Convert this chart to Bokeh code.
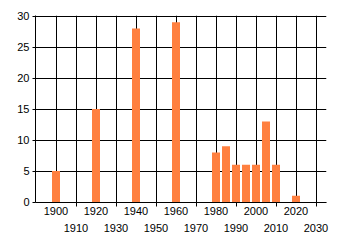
from bokeh.plotting import figure
from bokeh.models import FixedTicker, Range1d
from bokeh.embed import file_html
from bokeh.resources import INLINE

years = [1900, 1920, 1940, 1960, 1980, 1985, 1990, 1995, 2000, 2005, 2010, 2020]
counts = [5, 15, 28, 29, 8, 9, 6, 6, 6, 13, 6, 1]

x_labels_row1 = ["1900", "1920", "1940", "1960", "1980", "2000", "2020"]
x_labels_row2 = ["1910", "1930", "1950", "1970", "1990", "2010", "2030"]
y_ticks = [0, 5, 10, 15, 20, 25, 30]

bar_color = "#FF8040"
font = "Liberation Sans"

p = figure(frame_width=291, frame_height=187, output_backend="svg", toolbar_location=None,
           x_range=Range1d(1889.75, 2035.25), y_range=Range1d(-0.5 / 6.2, -0.5 / 6.2 + 187 / 6.2),
           min_border_left=35, min_border_right=14, min_border_top=15, min_border_bottom=43)
p.outline_line_color = None
p.background_fill_color = "white"
p.border_fill_color = "white"

p.vbar(x=years, top=counts, width=4, color=bar_color, line_color=None)

row1_vals = [int(s) for s in x_labels_row1]
row2_vals = [int(s) for s in x_labels_row2]
all_ticks = sorted(row1_vals + row2_vals)
overrides = {}
for s in x_labels_row1:
    overrides[int(s)] = s
for s in x_labels_row2:
    overrides[int(s)] = "\n" + s

xa = p.xaxis[0]
xa.ticker = FixedTicker(ticks=all_ticks, minor_ticks=row2_vals)
xa.major_label_overrides = overrides
xa.major_tick_out = 0
xa.major_tick_in = 0
xa.minor_tick_out = 4
xa.minor_tick_in = 0
xa.minor_tick_line_color = "black"
xa.major_label_standoff = -2
xa.major_label_text_font = font
xa.major_label_text_font_size = "11px"
xa.major_label_text_color = "black"
xa.major_label_text_line_height = 1.45
xa.axis_line_color = "black"

ya = p.yaxis[0]
ya.ticker = FixedTicker(ticks=y_ticks)
ya.major_tick_out = 3
ya.major_tick_in = 0
ya.minor_tick_out = 0
ya.minor_tick_in = 0
ya.major_label_standoff = 3
ya.major_label_text_font = font
ya.major_label_text_font_size = "11px"
ya.major_label_text_color = "black"
ya.axis_line_color = "black"

p.xgrid.ticker = FixedTicker(ticks=all_ticks)
p.ygrid.ticker = FixedTicker(ticks=y_ticks)
p.xgrid.grid_line_color = "black"
p.ygrid.grid_line_color = "black"
p.xgrid.grid_line_alpha = 1
p.ygrid.grid_line_alpha = 1

open("out.html", "w").write(file_html(p, INLINE))
